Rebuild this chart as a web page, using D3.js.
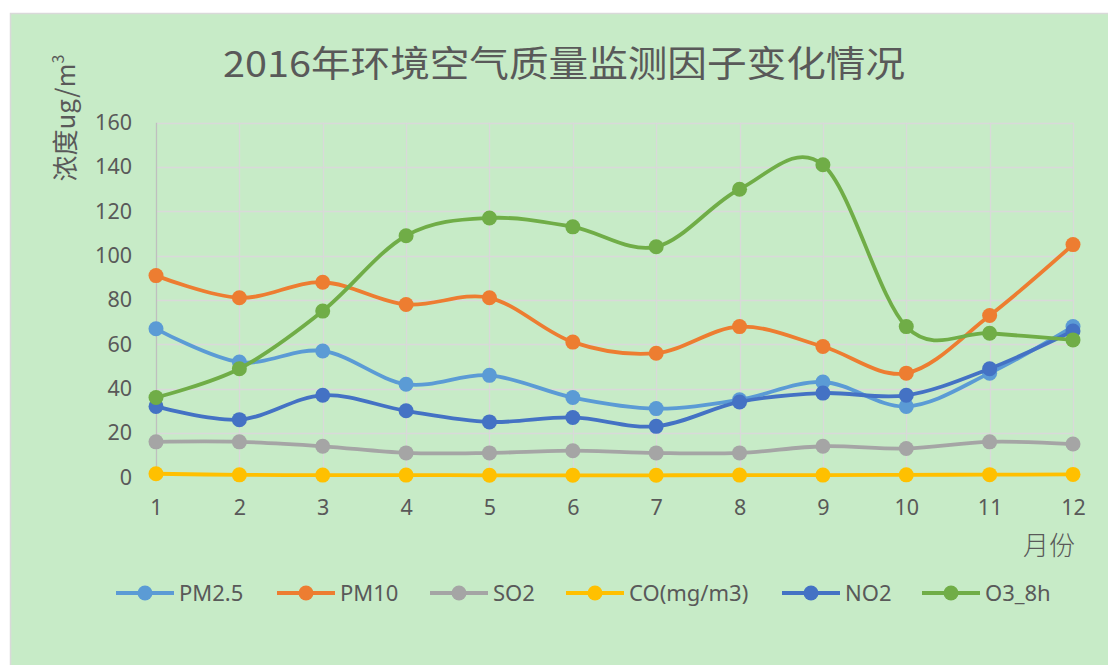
<!DOCTYPE html>
<html>
<head>
<meta charset="utf-8">
<script src="https://cdn.jsdelivr.net/npm/d3@7/dist/d3.min.js"></script>
<style>
html,body{margin:0;padding:0;background:#fff;}
svg{display:block;}
</style>
</head>
<body>
<svg id="chart" width="1108" height="665"></svg>
<script>
const months = ["1","2","3","4","5","6","7","8","9","10","11","12"];
const pm25 = [67, 52, 57, 42, 46, 36, 31, 35, 43, 32, 47, 68];
const pm10 = [91, 81, 88, 78, 81, 61, 56, 68, 59, 47, 73, 105];
const so2  = [16, 16, 14, 11, 11, 12, 11, 11, 14, 13, 16, 15];
const co   = [1.6, 1.1, 1.0, 1.0, 0.9, 0.9, 0.9, 1.0, 1.0, 1.1, 1.2, 1.3];
const no2  = [32, 26, 37, 30, 25, 27, 23, 34, 38, 37, 49, 66];
const o3   = [36, 49, 75, 109, 117, 113, 104, 130, 141, 68, 65, 62];
const yTicks = [0, 20, 40, 60, 80, 100, 120, 140, 160];
const seriesNames = ["PM2.5", "PM10", "SO2", "CO(mg/m3)", "NO2", "O3_8h"];
const seriesColors = ["#5B9BD5", "#ED7D31", "#A5A5A5", "#FFC000", "#4472C4", "#70AD47"];
const titleText = "2016年环境空气质量监测因子变化情况";
const yTitle = "浓度ug/m";
const xTitle = "月份";

const series = [pm25, pm10, so2, co, no2, o3].map((vals, i) => ({
  name: seriesNames[i], color: seriesColors[i], values: vals
}));

const svg = d3.select("#chart");
const textColor = "#595959";
const numFont = "'Noto Sans', 'DejaVu Sans', sans-serif";
const cjkFont = "'Noto Sans CJK SC', 'Noto Sans', sans-serif";

// chart frame
svg.append("rect")
  .attr("x", 10.5).attr("y", 13.5)
  .attr("width", 1120).attr("height", 680)
  .attr("fill", "#C7EBC7").attr("stroke", "#D9D9D9").attr("stroke-width", 1.5);

const x = d3.scalePoint().domain(months).range([156, 1073]);
const y = d3.scaleLinear().domain([0, 160]).range([477.3, 122.7]);

// gridlines
const grid = svg.append("g");
grid.selectAll("line.h").data(yTicks.filter(d => d > 0)).join("line")
  .attr("x1", x.range()[0]).attr("x2", x.range()[1])
  .attr("y1", d => Math.round(y(d)) + 0.5).attr("y2", d => Math.round(y(d)) + 0.5)
  .attr("stroke", "#D9D9D9").attr("stroke-width", 1.3);
grid.selectAll("line.v").data(months.slice(1)).join("line")
  .attr("x1", d => Math.round(x(d)) + 0.5).attr("x2", d => Math.round(x(d)) + 0.5)
  .attr("y1", y(160)).attr("y2", y(0))
  .attr("stroke", "#D9D9D9").attr("stroke-width", 1.3);
// left axis line
svg.append("line")
  .attr("x1", Math.round(x("1")) + 0.5).attr("x2", Math.round(x("1")) + 0.5)
  .attr("y1", y(160)).attr("y2", y(0))
  .attr("stroke", "#BFBFBF").attr("stroke-width", 1.3);

// y axis labels
const yAxis = d3.axisLeft(y).tickValues(yTicks).tickSize(0).tickPadding(24);
const gy = svg.append("g").attr("transform", `translate(${x.range()[0]},0)`).call(yAxis);
gy.select(".domain").remove();
gy.selectAll("text").attr("fill", textColor).style("font-family", numFont).style("font-size", "21.5px");

// x axis labels
const xAxis = d3.axisBottom(x).tickSize(0).tickPadding(22);
const gx = svg.append("g").attr("transform", `translate(0,${y(0)})`).call(xAxis);
gx.select(".domain").remove();
gx.selectAll("text").attr("fill", textColor).style("font-family", numFont).style("font-size", "21.5px");

// lines
const line = d3.line()
  .x((d, i) => x(months[i]))
  .y(d => y(d))
  .curve(d3.curveCatmullRom.alpha(0));

const gs = svg.append("g").selectAll("g").data(series).join("g");
gs.append("path")
  .attr("d", d => line(d.values))
  .attr("fill", "none").attr("stroke", d => d.color)
  .attr("stroke-width", 3.8).attr("stroke-linejoin", "round").attr("stroke-linecap", "round");
gs.selectAll("circle").data(d => d.values.map(v => ({v, c: d.color}))).join("circle")
  .attr("cx", (d, i) => x(months[i])).attr("cy", d => y(d.v))
  .attr("r", 7.5).attr("fill", d => d.c);

// title
svg.append("text")
  .attr("x", 223).attr("y", 77)
  .attr("textLength", 682).attr("lengthAdjust", "spacingAndGlyphs")
  .attr("fill", textColor)
  .style("font-family", cjkFont).style("font-size", "36px")
  .text(titleText);

// y-axis title
const yt = svg.append("text")
  .attr("transform", "translate(75,118) rotate(-90)")
  .attr("text-anchor", "middle")
  .attr("fill", textColor)
  .style("font-family", cjkFont).style("font-size", "26px");
yt.append("tspan").text(yTitle);
yt.append("tspan").attr("dy", -11).style("font-size", "16px").text("3");

// x-axis title
svg.append("text")
  .attr("x", 1075).attr("y", 555)
  .attr("text-anchor", "end")
  .attr("fill", textColor)
  .style("font-family", cjkFont).style("font-size", "26px").style("font-weight", 300)
  .text(xTitle);

// legend
const legendX = [116, 277, 430, 566, 782, 922];
const lg = svg.append("g").selectAll("g").data(series).join("g")
  .attr("transform", (d, i) => `translate(${legendX[i]},593)`);
lg.append("line").attr("x1", 0).attr("x2", 58).attr("y1", 0).attr("y2", 0)
  .attr("stroke", d => d.color).attr("stroke-width", 3.8);
lg.append("circle").attr("cx", 29).attr("cy", 0).attr("r", 7.5).attr("fill", d => d.color);
lg.append("text").attr("x", 63).attr("y", 0).attr("dy", "0.35em")
  .attr("fill", textColor)
  .style("font-family", numFont).style("font-size", "22px")
  .text(d => d.name);
</script>
</body>
</html>
